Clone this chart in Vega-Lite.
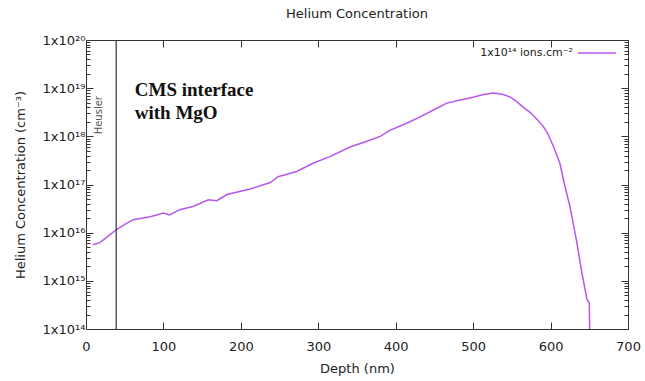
{
  "$schema": "https://vega.github.io/schema/vega-lite/v6.json",
  "width": 542,
  "height": 289,
  "autosize": {"type": "none"},
  "padding": {"left": 86, "top": 40, "right": 17, "bottom": 52},
  "background": "white",
  "title": {"text": "Helium Concentration", "fontSize": 13, "fontWeight": "normal", "font": "DejaVu Sans", "color": "#222", "offset": 12},
  "config": {
    "view": {"stroke": "#333", "strokeWidth": 1},
    "axis": {"grid": false, "labelFlush": false, "labelOverlap": false, "domainColor": "#333", "tickColor": "#333", "labelColor": "#222", "titleColor": "#222", "labelFont": "DejaVu Sans", "titleFont": "DejaVu Sans", "labelFontSize": 13, "titleFontSize": 13, "titleFontWeight": "normal"}
  },
  "datasets": {
    "profile": [
      {"depth": 9, "conc": 5.6e15},
      {"depth": 18, "conc": 6.2e15},
      {"depth": 31, "conc": 9.1e15},
      {"depth": 39, "conc": 1.15e16},
      {"depth": 50, "conc": 1.48e16},
      {"depth": 61, "conc": 1.86e16},
      {"depth": 83, "conc": 2.14e16},
      {"depth": 100, "conc": 2.57e16},
      {"depth": 108, "conc": 2.34e16},
      {"depth": 121, "conc": 3.0e16},
      {"depth": 138, "conc": 3.5e16},
      {"depth": 158, "conc": 4.8e16},
      {"depth": 169, "conc": 4.6e16},
      {"depth": 182, "conc": 6.2e16},
      {"depth": 212, "conc": 8.1e16},
      {"depth": 238, "conc": 1.1e17},
      {"depth": 248, "conc": 1.45e17},
      {"depth": 272, "conc": 1.86e17},
      {"depth": 294, "conc": 2.8e17},
      {"depth": 315, "conc": 3.8e17},
      {"depth": 341, "conc": 6.0e17},
      {"depth": 362, "conc": 7.8e17},
      {"depth": 380, "conc": 1.0e18},
      {"depth": 393, "conc": 1.35e18},
      {"depth": 412, "conc": 1.8e18},
      {"depth": 431, "conc": 2.5e18},
      {"depth": 450, "conc": 3.6e18},
      {"depth": 466, "conc": 4.9e18},
      {"depth": 482, "conc": 5.6e18},
      {"depth": 500, "conc": 6.5e18},
      {"depth": 512, "conc": 7.3e18},
      {"depth": 526, "conc": 7.9e18},
      {"depth": 538, "conc": 7.5e18},
      {"depth": 548, "conc": 6.5e18},
      {"depth": 556, "conc": 5.3e18},
      {"depth": 565, "conc": 4.0e18},
      {"depth": 575, "conc": 3.0e18},
      {"depth": 583, "conc": 2.2e18},
      {"depth": 590, "conc": 1.65e18},
      {"depth": 596, "conc": 1.17e18},
      {"depth": 604, "conc": 6.0e17},
      {"depth": 612, "conc": 2.75e17},
      {"depth": 618, "conc": 1.0e17},
      {"depth": 625, "conc": 3.5e16},
      {"depth": 634, "conc": 6.2e15},
      {"depth": 640, "conc": 1.6e15},
      {"depth": 647, "conc": 4.1e14},
      {"depth": 650, "conc": 3.5e14},
      {"depth": 650.5, "conc": 1.0e14}
    ],
    "interface": [{"depth": 39}],
    "notes": [
      {"depth": 63, "conc": 6.8e18, "label": "CMS interface"},
      {"depth": 63, "conc": 2.3e18, "label": "with MgO"}
    ],
    "heusler": [{"depth": 17, "conc": 2.75e18, "label": "Heusler"}]
  },
  "layer": [
    {
      "data": {"name": "profile"},
      "mark": {"type": "line", "strokeWidth": 1.5, "clip": true},
      "encoding": {
        "x": {"field": "depth", "type": "quantitative", "scale": {"domain": [0, 700], "nice": false, "padding": 0, "zero": false},
              "axis": {"orient": "bottom", "title": "Depth (nm)", "values": [0, 100, 200, 300, 400, 500, 600, 700], "tickSize": -7, "labelPadding": 18, "titlePadding": 9, "domain": false}},
        "y": {"field": "conc", "type": "quantitative", "scale": {"type": "log", "domain": [1e14, 1e20], "nice": false, "padding": 0},
              "axis": {"orient": "left", "title": "Helium Concentration (cm⁻³)", "domain": false,
                       "values": [1e14, 2e14, 3e14, 4e14, 5e14, 6e14, 7e14, 8e14, 9e14, 1e15, 2e15, 3e15, 4e15, 5e15, 6e15, 7e15, 8e15, 9e15, 1e16, 2e16, 3e16, 4e16, 5e16, 6e16, 7e16, 8e16, 9e16, 1e17, 2e17, 3e17, 4e17, 5e17, 6e17, 7e17, 8e17, 9e17, 1e18, 2e18, 3e18, 4e18, 5e18, 6e18, 7e18, 8e18, 9e18, 1e19, 2e19, 3e19, 4e19, 5e19, 6e19, 7e19, 8e19, 9e19, 1e20],
                       "labelExpr": "datum.value == 1e14 ? '1x10¹⁴' : datum.value == 1e15 ? '1x10¹⁵' : datum.value == 1e16 ? '1x10¹⁶' : datum.value == 1e17 ? '1x10¹⁷' : datum.value == 1e18 ? '1x10¹⁸' : datum.value == 1e19 ? '1x10¹⁹' : datum.value == 1e20 ? '1x10²⁰' : ''",
                       "tickSize": {"condition": {"test": "indexof([1e14,1e15,1e16,1e17,1e18,1e19,1e20], datum.value) >= 0", "value": -7}, "value": -4},
                       "labelPadding": 8, "titlePadding": 15}},
        "color": {"datum": "1x10¹⁴ ions.cm⁻²", "type": "nominal", "scale": {"range": ["#b757ee"]},
                  "legend": {"orient": "none", "legendX": 491, "legendY": -7, "title": null, "symbolType": "stroke", "symbolSize": 1444, "symbolStrokeWidth": 1.5, "labelFontSize": 11, "labelFont": "DejaVu Sans", "labelColor": "#222", "labelAlign": "right", "labelOffset": -44, "padding": 0}}
      }
    },
    {
      "data": {"name": "interface"},
      "mark": {"type": "rule", "color": "#333", "strokeWidth": 1.2},
      "encoding": {"x": {"field": "depth", "type": "quantitative", "scale": {"domain": [0, 700], "nice": false, "padding": 0, "zero": false}, "axis": null}}
    },
    {
      "data": {"name": "notes"},
      "mark": {"type": "text", "font": "Liberation Serif", "fontWeight": "bold", "fontSize": 19, "align": "left", "baseline": "alphabetic", "color": "#111"},
      "encoding": {
        "x": {"field": "depth", "type": "quantitative", "scale": {"domain": [0, 700], "nice": false, "padding": 0, "zero": false},
              "axis": {"orient": "top", "title": null, "labels": false, "domain": false, "values": [0, 100, 200, 300, 400, 500, 600, 700], "tickSize": -7}},
        "y": {"field": "conc", "type": "quantitative", "scale": {"type": "log", "domain": [1e14, 1e20], "nice": false, "padding": 0},
              "axis": {"orient": "right", "title": null, "labels": false, "domain": false,
                       "values": [1e14, 2e14, 3e14, 4e14, 5e14, 6e14, 7e14, 8e14, 9e14, 1e15, 2e15, 3e15, 4e15, 5e15, 6e15, 7e15, 8e15, 9e15, 1e16, 2e16, 3e16, 4e16, 5e16, 6e16, 7e16, 8e16, 9e16, 1e17, 2e17, 3e17, 4e17, 5e17, 6e17, 7e17, 8e17, 9e17, 1e18, 2e18, 3e18, 4e18, 5e18, 6e18, 7e18, 8e18, 9e18, 1e19, 2e19, 3e19, 4e19, 5e19, 6e19, 7e19, 8e19, 9e19, 1e20],
                       "tickSize": {"condition": {"test": "indexof([1e14,1e15,1e16,1e17,1e18,1e19,1e20], datum.value) >= 0", "value": -7}, "value": -4}}},
        "text": {"field": "label"}
      }
    },
    {
      "data": {"name": "heusler"},
      "mark": {"type": "text", "font": "DejaVu Sans", "fontSize": 10, "angle": 270, "align": "center", "baseline": "middle", "color": "#555"},
      "encoding": {
        "x": {"field": "depth", "type": "quantitative", "axis": null},
        "y": {"field": "conc", "type": "quantitative", "axis": null},
        "text": {"field": "label"}
      }
    }
  ],
  "resolve": {"axis": {"x": "independent", "y": "independent"}}
}
